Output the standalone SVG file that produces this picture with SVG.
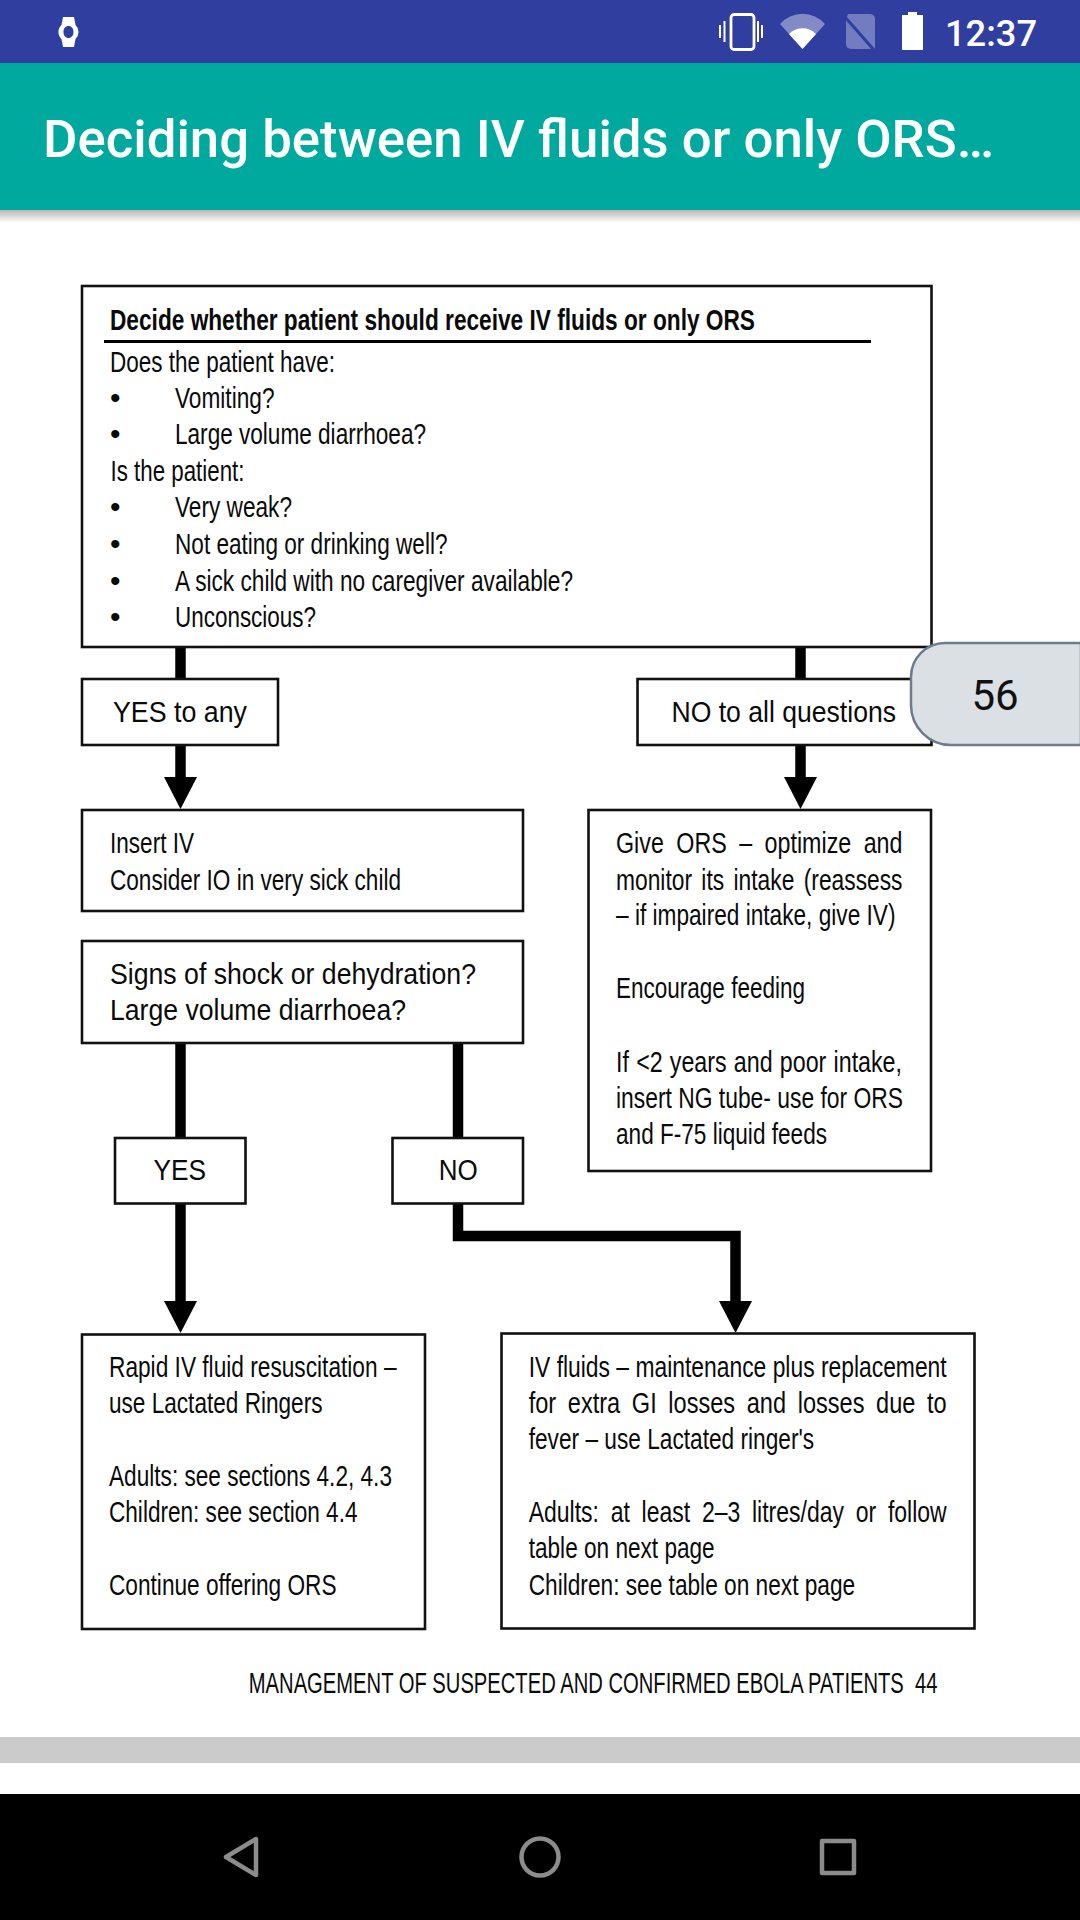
<svg xmlns="http://www.w3.org/2000/svg" width="1080" height="1920" viewBox="0 0 1080 1920">
<style>
.box{fill:#fff;stroke:#111;stroke-width:2.6}
.t{font-family:"Liberation Sans",Arial,sans-serif;font-size:30px;fill:#0a0a0a}
.b{font-weight:700}
.c{fill:none;stroke:#000;stroke-width:10.5;stroke-linejoin:miter}
.nav{fill:none;stroke:#8c8c8c;stroke-width:4.5;stroke-linejoin:round}
.ic{fill:#fff}
</style>
<defs>
<marker id="ah" markerUnits="userSpaceOnUse" markerWidth="32" markerHeight="33" refX="0" refY="16.5" orient="auto" viewBox="0 0 32 33"><polygon points="0,0 32,16.5 0,33" fill="#000"/></marker>
<linearGradient id="sh" x1="0" y1="0" x2="0" y2="1"><stop offset="0" stop-color="#000" stop-opacity=".28"/><stop offset="1" stop-color="#000" stop-opacity="0"/></linearGradient>
</defs>
<rect width="1080" height="1920" fill="#fff"/>
<g id="status-bar">
<rect width="1080" height="63" fill="#303f9f"/>
<path class="ic" fill-rule="evenodd" d="M63 17h11l1.500 8a9.500 9.500 0 0 1 0 14l-1.500 8h-11l-1.500-8a9.500 9.500 0 0 1 0-14zM68.500 26c-3 0-5 2.500-5 6s2 6 5 6s5-2.500 5-6s-2-6-5-6z"/>
<rect x="731" y="14.500" width="23" height="35" rx="3" fill="none" stroke="#fff" stroke-width="2.800"/>
<path d="M724.500 21v21M720 25v13M758 21v21M762 25v13" stroke="#fff" stroke-width="2" fill="none"/>
<path d="M780 24a30 30 0 0 1 45 0l-22.500 25z" fill="#fff" fill-opacity=".4"/>
<path d="M789 34a19 19 0 0 1 27 0l-13.500 15z" fill="#fff"/>
<path d="M848 14h22a5 5 0 0 1 5 5v30h-24a5 5 0 0 1-5-5v-25z" fill="#fff" fill-opacity=".32"/>
<path d="M845 17l29 33" stroke="#303f9f" stroke-width="3" fill="none"/>
<path d="M908 12h9v3h6v35h-21v-35h6z" fill="#fff"/>
<text x="945" y="45.500" font-family="Roboto,sans-serif" font-weight="500" font-size="37" fill="#fff" textLength="92" lengthAdjust="spacingAndGlyphs">12:37</text>
</g>
<g id="app-bar">
<rect y="63" width="1080" height="147" fill="#00a99d"/>
<rect y="210" width="1080" height="13" fill="url(#sh)"/>
<text x="43" y="156.500" font-family="Roboto,sans-serif" font-weight="500" font-size="51" fill="#fff" textLength="951" lengthAdjust="spacingAndGlyphs">Deciding between IV fluids or only ORS…</text>
</g>
<g id="connectors">
<path class="c" d="M180.500 647V679"/>
<path class="c" d="M800.500 647V679"/>
<path class="c" d="M180.500 745V777" marker-end="url(#ah)"/>
<path class="c" d="M800.500 745V777" marker-end="url(#ah)"/>
<path class="c" d="M180.500 1043V1137"/>
<path class="c" d="M458 1043V1137"/>
<path class="c" d="M180.500 1204V1301" marker-end="url(#ah)"/>
<path class="c" d="M458 1204V1236H735.500V1301" marker-end="url(#ah)"/>
</g>
<g id="node-question">
<rect class="box" x="82" y="286" width="849.500" height="361"/>
<text class="t b" x="110" y="330" textLength="645" lengthAdjust="spacingAndGlyphs">Decide whether patient should receive IV fluids or only ORS</text>
<rect x="104" y="340" width="767" height="3" fill="#000"/>
<text class="t" x="110" y="371.500" textLength="225" lengthAdjust="spacingAndGlyphs">Does the patient have:</text>
<text class="t" x="110" y="407.500">•</text>
<text class="t" x="175" y="407.500" textLength="99.500" lengthAdjust="spacingAndGlyphs">Vomiting?</text>
<text class="t" x="110" y="444">•</text>
<text class="t" x="175" y="444" textLength="251" lengthAdjust="spacingAndGlyphs">Large volume diarrhoea?</text>
<text class="t" x="110.500" y="481" textLength="134" lengthAdjust="spacingAndGlyphs">Is the patient:</text>
<text class="t" x="110" y="517">•</text>
<text class="t" x="175" y="517" textLength="117" lengthAdjust="spacingAndGlyphs">Very weak?</text>
<text class="t" x="110" y="554">•</text>
<text class="t" x="175" y="554" textLength="272.500" lengthAdjust="spacingAndGlyphs">Not eating or drinking well?</text>
<text class="t" x="110" y="591">•</text>
<text class="t" x="175" y="591" textLength="398" lengthAdjust="spacingAndGlyphs">A sick child with no caregiver available?</text>
<text class="t" x="110" y="627">•</text>
<text class="t" x="175" y="627" textLength="141" lengthAdjust="spacingAndGlyphs">Unconscious?</text>
</g>
<g id="node-yes-any">
<rect class="box" x="82" y="679" width="196" height="66"/>
<text class="t" x="113" y="722" textLength="134" lengthAdjust="spacingAndGlyphs">YES to any</text>
</g>
<g id="node-no-all">
<rect class="box" x="637.500" y="679" width="294" height="66"/>
<text class="t" x="671.500" y="722" textLength="224.500" lengthAdjust="spacingAndGlyphs">NO to all questions</text>
</g>
<g id="node-insert-iv">
<rect class="box" x="82" y="810" width="441" height="101"/>
<text class="t" x="110" y="853" textLength="84" lengthAdjust="spacingAndGlyphs">Insert IV</text>
<text class="t" x="110" y="889.500" textLength="291" lengthAdjust="spacingAndGlyphs">Consider IO in very sick child</text>
</g>
<g id="node-signs">
<rect class="box" x="82" y="941" width="441" height="102"/>
<text class="t" x="110" y="984" textLength="366" lengthAdjust="spacingAndGlyphs">Signs of shock or dehydration?</text>
<text class="t" x="110" y="1020" textLength="296" lengthAdjust="spacingAndGlyphs">Large volume diarrhoea?</text>
</g>
<g id="node-give-ors">
<rect class="box" x="588.500" y="810" width="342.500" height="361"/>
<text class="t" x="616" y="853" word-spacing="7.700" textLength="286.500" lengthAdjust="spacingAndGlyphs">Give ORS – optimize and</text>
<text class="t" x="616" y="889.500" word-spacing="4" textLength="286.500" lengthAdjust="spacingAndGlyphs">monitor its intake (reassess</text>
<text class="t" x="616" y="925" textLength="279.500" lengthAdjust="spacingAndGlyphs">– if impaired intake, give IV)</text>
<text class="t" x="616" y="998" textLength="189" lengthAdjust="spacingAndGlyphs">Encourage feeding</text>
<text class="t" x="616" y="1071.500" word-spacing="1" textLength="286" lengthAdjust="spacingAndGlyphs">If &lt;2 years and poor intake,</text>
<text class="t" x="616" y="1107.500" textLength="287" lengthAdjust="spacingAndGlyphs">insert NG tube- use for ORS</text>
<text class="t" x="616" y="1144" textLength="211" lengthAdjust="spacingAndGlyphs">and F-75 liquid feeds</text>
</g>
<g id="node-yes">
<rect class="box" x="115" y="1138" width="130.500" height="65.500"/>
<text class="t" x="153.500" y="1180" textLength="52.500" lengthAdjust="spacingAndGlyphs">YES</text>
</g>
<g id="node-no">
<rect class="box" x="392.500" y="1138" width="130.500" height="65.500"/>
<text class="t" x="438.800" y="1180" textLength="39" lengthAdjust="spacingAndGlyphs">NO</text>
</g>
<g id="node-rapid">
<rect class="box" x="82" y="1334.500" width="343" height="294.500"/>
<text class="t" x="109" y="1377" textLength="287.500" lengthAdjust="spacingAndGlyphs">Rapid IV fluid resuscitation –</text>
<text class="t" x="109" y="1413" textLength="213.500" lengthAdjust="spacingAndGlyphs">use Lactated Ringers</text>
<text class="t" x="109" y="1485.500" textLength="283" lengthAdjust="spacingAndGlyphs">Adults: see sections 4.2, 4.3</text>
<text class="t" x="109" y="1521.500" textLength="248.500" lengthAdjust="spacingAndGlyphs">Children: see section 4.4</text>
<text class="t" x="109" y="1595" textLength="227.500" lengthAdjust="spacingAndGlyphs">Continue offering ORS</text>
</g>
<g id="node-iv-fluids">
<rect class="box" x="501.500" y="1333.500" width="473" height="295"/>
<text class="t" x="528.700" y="1377" textLength="418" lengthAdjust="spacingAndGlyphs">IV fluids – maintenance plus replacement</text>
<text class="t" x="528.700" y="1413" word-spacing="6.500" textLength="418" lengthAdjust="spacingAndGlyphs">for extra GI losses and losses due to</text>
<text class="t" x="528.700" y="1449" textLength="285.500" lengthAdjust="spacingAndGlyphs">fever – use Lactated ringer's</text>
<text class="t" x="528.700" y="1522" word-spacing="7" textLength="418" lengthAdjust="spacingAndGlyphs">Adults: at least 2–3 litres/day or follow</text>
<text class="t" x="528.700" y="1558" textLength="186" lengthAdjust="spacingAndGlyphs">table on next page</text>
<text class="t" x="528.700" y="1594.500" textLength="326.500" lengthAdjust="spacingAndGlyphs">Children: see table on next page</text>
</g>
<g id="footer">
<text class="t" x="248.800" y="1693" xml:space="preserve" textLength="688.700" lengthAdjust="spacingAndGlyphs">MANAGEMENT OF SUSPECTED AND CONFIRMED EBOLA PATIENTS  44</text>
</g>
<g id="page-badge">
<path d="M1081 643H945A34 34 0 0 0 911 677V705A40 40 0 0 0 951 745H1081Z" fill="#dbe0e4" stroke="#6c7c8c" stroke-width="2.500"/>
<text x="995" y="710" text-anchor="middle" font-family="Roboto,sans-serif" font-size="42" fill="#111">56</text>
</g>
<g id="bottom-bar">
<rect y="1737" width="1080" height="26" fill="#cbcbcb"/>
<rect y="1794" width="1080" height="126" fill="#000"/>
<path class="nav" d="M256 1839V1875L226 1857Z"/>
<circle class="nav" cx="540" cy="1857" r="18.500"/>
<rect class="nav" x="822" y="1841" width="32" height="32"/>
</g>
</svg>
